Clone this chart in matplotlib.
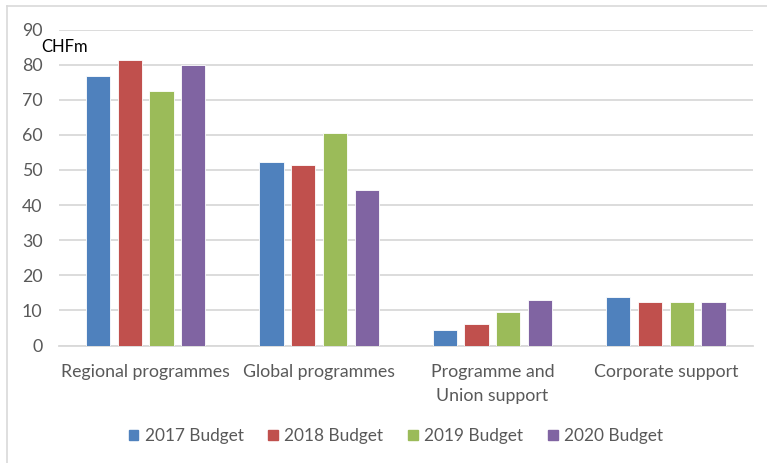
import matplotlib
matplotlib.use("Agg")
import matplotlib.pyplot as plt
import numpy as np
from matplotlib.patches import Rectangle
from matplotlib.lines import Line2D

categories = ["Regional programmes", "Global programmes", "Programme and\nUnion support", "Corporate support"]
series_names = ["2017 Budget", "2018 Budget", "2019 Budget", "2020 Budget"]
budget_2017 = [76.7, 52.3, 4.3, 13.7]
budget_2018 = [81.3, 51.4, 6.1, 12.5]
budget_2019 = [72.4, 60.4, 9.6, 12.3]
budget_2020 = [80.0, 44.4, 13.1, 12.3]
yticks = [0, 10, 20, 30, 40, 50, 60, 70, 80, 90]
colors = ["#4F81BD", "#C0504D", "#9BBB59", "#8064A2"]

plt.rcParams['font.family'] = ['Lato', 'DejaVu Sans']

W, H = 767, 463
fig = plt.figure(figsize=(W / 100, H / 100), dpi=100)
ax = fig.add_axes([59 / W, 1 - 345.5 / H, (752.5 - 59) / W, (345.5 - 29.5) / H])

series = [budget_2017, budget_2018, budget_2019, budget_2020]
x = np.arange(len(categories))
pitch = 0.183
width = 0.14
for i, (vals, c) in enumerate(zip(series, colors)):
    ax.bar(x + (i - 1.5) * pitch, vals, width, color=c, edgecolor="white",
           linewidth=0.6, zorder=3, label=series_names[i])

ax.set_xlim(-0.5, len(categories) - 0.5)
ax.set_ylim(0, 90)
ax.set_yticks(yticks)
ax.yaxis.grid(True, color="#d9d9d9", linewidth=1.3, zorder=0)
for s in ["top", "right", "left"]:
    ax.spines[s].set_visible(False)
ax.spines["bottom"].set_color("#d9d9d9")
ax.spines["bottom"].set_linewidth(1.3)
ax.tick_params(axis="y", length=0, pad=12, labelsize=12.8, labelcolor="#595959")
ax.tick_params(axis="x", length=0, pad=13, labelsize=12.8, labelcolor="#595959")
ax.set_xticks(x)
ax.set_xticklabels(categories, linespacing=1.65, va="top")

fig.text(41.5 / W, 1 - 47 / H, "CHFm", fontsize=12, color="#000000", va="center", ha="left")

handles = [Rectangle((0, 0), 1, 1, color=c) for c in colors]
fig.legend(handles, series_names, loc="center", bbox_to_anchor=(396 / W, 1 - 436 / H),
           ncol=4, frameon=False, fontsize=12.4, labelcolor="#595959",
           handlelength=0.55, handleheight=0.55, handletextpad=0.38, columnspacing=1.45)

# outer border
fig.add_artist(Line2D([7 / W, 7 / W], [0, 1 - 6 / H], color="#d9d9d9", linewidth=1.2))
fig.add_artist(Line2D([7 / W, 1], [1 - 6 / H, 1 - 6 / H], color="#d9d9d9", linewidth=1.2))

fig.savefig("out.png", dpi=100)
